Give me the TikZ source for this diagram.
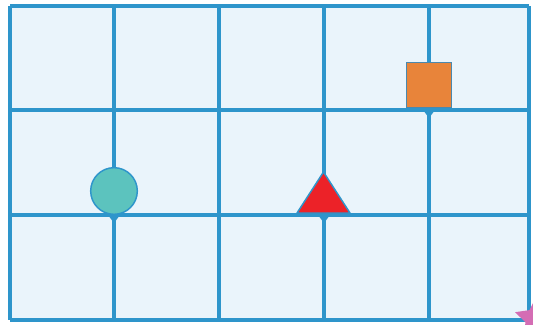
\documentclass[tikz,border=0pt]{standalone}
\usetikzlibrary{shapes.geometric}
\definecolor{gridblue}{HTML}{2E95CB}
\definecolor{cellbg}{HTML}{EAF4FB}
\definecolor{sqorange}{HTML}{E8843A}
\definecolor{sqborder}{HTML}{4A88AE}
\definecolor{circteal}{HTML}{5CC3BE}
\definecolor{trired}{HTML}{EC2228}
\definecolor{starpink}{HTML}{D46DB4}
\tikzset{
  gridline/.style={draw=gridblue, line width=3.4pt},
  sqshape/.style={rectangle, draw=sqborder, fill=sqorange, line width=0.9pt, minimum size=34pt, inner sep=0pt},
  circshape/.style={circle, draw=gridblue, fill=circteal, line width=1.1pt, minimum size=35pt, inner sep=0pt},
  trishape/.style={draw=gridblue, fill=trired, line width=1.1pt, line join=round},
  pinmark/.style={fill=gridblue},
  starshape/.style={star, star points=5, star point ratio=2, fill=starpink, minimum size=33pt, inner sep=0pt}
}
\begin{document}
\begin{tikzpicture}[x=0.75pt,y=-0.75pt]
\useasboundingbox (0,0) rectangle (533,325);
\clip (0,0) rectangle (533,325);
\fill[white] (0,0) rectangle (533,325);
\fill[cellbg] (10,6) rectangle (529,320);
% grid
\foreach \x in {10,114,219,324,429,529} \draw[gridline] (\x,6) -- (\x,320);
\foreach \y in {6,110,215,320} \draw[gridline] (10,\y) -- (529,\y);
% pin markers
\foreach \px/\py in {114/215,324/215,429/110}
  \fill[pinmark] (\px-6,\py) -- (\px+6,\py) .. controls (\px+3,\py+4) .. (\px,\py+8) .. controls (\px-3,\py+4) .. cycle;
% shapes
\node[sqshape] (square) at (429,85) {};
\node[circshape] (disc) at (114,191) {};
\coordinate (tA) at (297,213);
\coordinate (tB) at (350,213);
\coordinate (tC) at (323.5,172);
\draw[trishape] (tA) -- (tB) -- (tC) -- cycle;
\node[starshape] (starnode) at (536,319) {};
\end{tikzpicture}
\end{document}
